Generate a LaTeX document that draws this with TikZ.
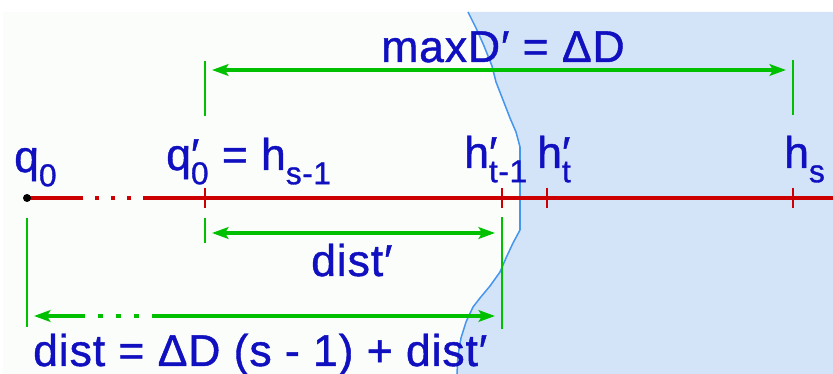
\documentclass[tikz,border=0pt]{standalone}
\usepackage{fontspec}
\setmainfont[FakeBold=1, LetterSpace=2]{Liberation Sans}
\usetikzlibrary{arrows.meta, positioning}
\definecolor{inkblue}{RGB}{16,16,192}
\definecolor{axisred}{RGB}{204,0,0}
\definecolor{dimgreen}{RGB}{0,192,0}
\definecolor{shoreblue}{RGB}{70,150,240}
\definecolor{seafill}{RGB}{212,228,248}
\definecolor{paper}{RGB}{251,253,251}
\newcommand{\lowidx}[1]{\raisebox{-0.32em}{\fontsize{27}{30}\selectfont #1}}
\tikzset{
  font=\fontsize{38}{42}\selectfont,     % big sans labels
  lbl/.style      = {text=inkblue, inner sep=0pt, anchor=base west},
  axis/.style     = {draw=axisred, line width=2.6pt},
  tick/.style     = {draw=axisred, line width=2.2pt},
  bar/.style      = {draw=dimgreen, line width=2.4pt},
  dimline/.style  = {draw=dimgreen, line width=2.6pt},
  dimtip/.style   = {arrows={Stealth[length=14pt,width=10pt,inset=3pt]-Stealth[length=14pt,width=10pt,inset=3pt]},
                     shorten <=6pt, shorten >=6pt},
  ltip/.style     = {arrows={Stealth[length=14pt,width=10pt,inset=3pt]-}, shorten <=6pt},
  rtip/.style     = {arrows={-Stealth[length=14pt,width=10pt,inset=3pt]}, shorten >=6pt}
}

\begin{document}
\begin{tikzpicture}[x=0.03cm, y=-0.03cm]
  \useasboundingbox (0,0) rectangle (833,374);
  % background and the shaded region
  \fill[white] (0,0) rectangle (833,374);
  \fill[paper] (3,12) rectangle (833,374);
  \fill[seafill] plot coordinates {(468,12) (476,28) (484,46) (492,66) (496,82) (503,100) (510,118) (516,132) (520,147) (520,230) (513,243) (506,258) (500,272) (490,286) (480,298) (473,307) (466,322) (461,338) (458,355) (457,374)}
    -- (833,374) -- (833,12) -- cycle;
  \draw[shoreblue, line width=1.3pt, line join=round] plot coordinates {(468,12) (476,28) (484,46) (492,66) (496,82) (503,100) (510,118) (516,132) (520,147) (520,230) (513,243) (506,258) (500,272) (490,286) (480,298) (473,307) (466,322) (461,338) (458,355) (457,374)};

  % the axis
  \coordinate (q0)  at (27,198);
  \coordinate (ax1) at (83,198);
  \coordinate (ax2) at (143,198);
  \coordinate (axe) at (833,198);
  \draw[axis] (q0) -- (ax1);
  \draw[axis, dash pattern=on 3.4pt off 10.2pt, dash phase=3.4pt] (ax1) -- (ax2);
  \draw[axis] (ax2) -- (axe);
  \foreach \x in {205,502,547,793}
    \draw[tick] (\x,188) -- (\x,208);
  \fill[black] (q0) circle (4);

  % point labels
  \node[lbl] (lq0)  at (14,172)  {q\lowidx{0}};
  \node[lbl] (lqh)  at (166,170) {q\rlap{′}\lowidx{0} = h\lowidx{s-1}};
  \node[lbl] (lht1) at (464,168) {h\rlap{′}\lowidx{t-1}};
  \node[lbl] (lht)  at (537,168) {h\rlap{′}\lowidx{t}};
  \node[lbl] (lhs)  at (784,168) {h\lowidx{s}};

  % dimension bars
  \coordinate (mtop) at (205,61);  \coordinate (mbot) at (205,116);
  \coordinate (ntop) at (793,60);  \coordinate (nbot) at (793,115);
  \coordinate (dtop) at (205,218); \coordinate (dbot) at (205,243);
  \coordinate (etop) at (502,217); \coordinate (ebot) at (502,329);
  \coordinate (ftop) at (27,218);  \coordinate (fbot) at (27,327);
  \draw[bar] (mtop) -- (mbot);
  \draw[bar] (ntop) -- (nbot);
  \draw[bar] (dtop) -- (dbot);
  \draw[bar] (etop) -- (ebot);
  \draw[bar] (ftop) -- (fbot);

  % dimension arrows
  \coordinate (mL) at (205,70);  \coordinate (mR) at (793,70);
  \coordinate (dL) at (205,233); \coordinate (dR) at (502,233);
  \coordinate (fL) at (27,316);  \coordinate (f1) at (85,316);
  \coordinate (f2) at (152,316); \coordinate (fR) at (502,316);
  \draw[dimline, dimtip] (mL) -- (mR);
  \draw[dimline, dimtip] (dL) -- (dR);
  \draw[dimline, ltip] (fL) -- (f1);
  \draw[dimline, dash pattern=on 4.25pt off 11.05pt, dash phase=4.25pt] (f1) -- (f2);
  \draw[dimline, rtip] (f2) -- (fR);

  % dimension labels
  \node[lbl] (lmax)  at (381,62)  {maxD′ = ΔD};
  \node[lbl] (ldst1) at (311,276) {dist′};
  \node[lbl] (ldst)  at (33,366)  {dist = ΔD (s - 1) + dist′};
\end{tikzpicture}
\end{document}
